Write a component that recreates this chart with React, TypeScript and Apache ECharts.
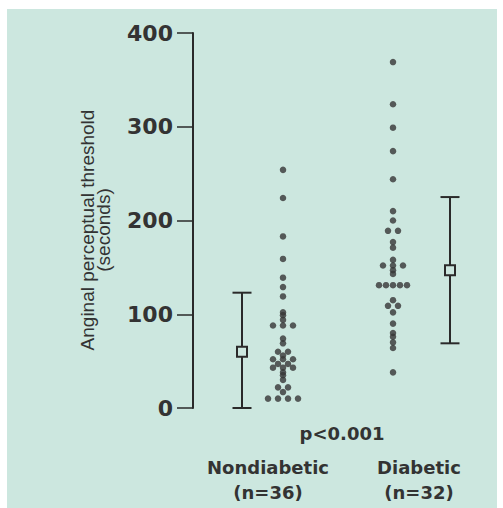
import React, { useEffect, useRef } from "react";
import * as echarts from "echarts";

// ---- data ----
const yTicks = [0, 100, 200, 300, 400];
const groupNames = ["Nondiabetic", "Diabetic"];
const groupCounts = ["(n=36)", "(n=32)"];
const pValueText = "p<0.001";
const yTitle = ["Anginal perceptual threshold", "(seconds)"];

const nondiabetic = [
  254, 224, 183, 159, 139, 129, 119, 102, 99, 94, 88, 88, 88, 74, 69, 60, 60, 56,
  52, 52, 52, 47, 47, 43, 43, 43, 38, 35, 30, 22, 22, 17, 10, 10, 10, 10,
];
const diabetic = [
  369, 324, 299, 274, 244, 210, 200, 189, 189, 177, 171, 158, 152, 152, 152, 147,
  143, 131, 131, 131, 131, 131, 115, 109, 109, 102, 90, 80, 76, 70, 64, 38,
];
// mean and SD range: [low, mean, high]
const nondiabeticStats = [0, 60, 123];
const diabeticStats = [69, 147, 225];

// ---- layout (x axis in pixel-like units across the plot) ----
const X_ND_DOTS = 90;
const X_D_DOTS = 200;
const X_ND_BAR = 49;
const X_D_BAR = 257;

const BG = "#cce7df";
const INK = "#2a2a2a";
const DOT = "#363636";

function spreadTies(values: number[], cx: number): number[][] {
  const counts = new Map<number, number>();
  values.forEach((v) => counts.set(v, (counts.get(v) || 0) + 1));
  const seen = new Map<number, number>();
  return values.map((v) => {
    const n = counts.get(v) || 1;
    const i = seen.get(v) || 0;
    seen.set(v, i + 1);
    const spacing = n >= 5 ? 7 : 10;
    return [cx + (i - (n - 1) / 2) * spacing, v];
  });
}

export default function App() {
  const ref = useRef<HTMLDivElement>(null);
  useEffect(() => {
    if (!ref.current) return;
    const chart = echarts.init(ref.current, undefined, { renderer: "svg" });
    const boldText = {
      align: "center",
      verticalAlign: "middle",
      fontFamily: "DejaVu Sans",
      fontWeight: "bold",
      fontSize: 18,
      fill: "#333",
    };
    const option: any = {
      animation: false,
      backgroundColor: "#ffffff",
      grid: { left: 193, right: 10, top: 33, bottom: 100 },
      xAxis: { type: "value", min: 0, max: 300, show: false },
      yAxis: {
        type: "value",
        min: 0,
        max: 400,
        interval: 100,
        splitLine: { show: false },
        axisLine: { show: true, lineStyle: { color: INK, width: 2 } },
        axisTick: { show: true, length: 16, lineStyle: { color: INK, width: 1.5 } },
        axisLabel: {
          margin: 20,
          color: "#333",
          fontFamily: "DejaVu Sans",
          fontWeight: "bold",
          fontSize: 22,
          padding: [7, 0, 0, 0],
          formatter: (v: number) => (yTicks.includes(v) ? String(v) : ""),
        },
      },
      graphic: [
        {
          type: "rect",
          z: -10,
          silent: true,
          shape: { x: 7, y: 9, width: 490, height: 499 },
          style: { fill: BG },
        },
        {
          type: "text",
          x: 95,
          y: 230,
          rotation: Math.PI / 2,
          style: {
            text: yTitle.join("\n"),
            align: "center",
            verticalAlign: "middle",
            fontFamily: "Liberation Sans",
            fontSize: 19,
            lineHeight: 16,
            fill: "#333",
          },
        },
        { type: "text", x: 342, y: 433, style: { ...boldText, text: pValueText } },
        ...[268, 419].flatMap((cx, i) => [
          { type: "text", x: cx, y: 467, style: { ...boldText, text: groupNames[i] } },
          { type: "text", x: cx, y: 492, style: { ...boldText, text: groupCounts[i] } },
        ]),
      ],
      series: [
        {
          type: "scatter",
          name: groupNames[0],
          symbol: "circle",
          symbolSize: 6.5,
          itemStyle: { color: DOT },
          data: spreadTies(nondiabetic, X_ND_DOTS),
        },
        {
          type: "scatter",
          name: groupNames[1],
          symbol: "circle",
          symbolSize: 6.5,
          itemStyle: { color: DOT },
          data: spreadTies(diabetic, X_D_DOTS),
        },
        {
          type: "custom",
          name: "mean ± SD",
          data: [
            [X_ND_BAR, ...nondiabeticStats],
            [X_D_BAR, ...diabeticStats],
          ],
          renderItem: (params: any, api: any) => {
            const x = api.value(0);
            const lo = api.coord([x, api.value(1)]);
            const m = api.coord([x, api.value(2)]);
            const hi = api.coord([x, api.value(3)]);
            const cap = 9.5;
            const st = { stroke: INK, lineWidth: 2 };
            return {
              type: "group",
              children: [
                { type: "line", shape: { x1: lo[0], y1: lo[1], x2: hi[0], y2: hi[1] }, style: st },
                { type: "line", shape: { x1: hi[0] - cap, y1: hi[1], x2: hi[0] + cap, y2: hi[1] }, style: st },
                { type: "line", shape: { x1: lo[0] - cap, y1: lo[1], x2: lo[0] + cap, y2: lo[1] }, style: st },
                {
                  type: "rect",
                  shape: { x: m[0] - 5, y: m[1] - 5, width: 10, height: 10 },
                  style: { fill: BG, stroke: INK, lineWidth: 2 },
                },
              ],
            };
          },
        },
      ],
    };
    chart.setOption(option);
    return () => chart.dispose();
  }, []);
  return (
    <div
      ref={ref}
      style={{ position: "absolute", left: 0, top: 0, width: 503, height: 508 }}
    />
  );
}
